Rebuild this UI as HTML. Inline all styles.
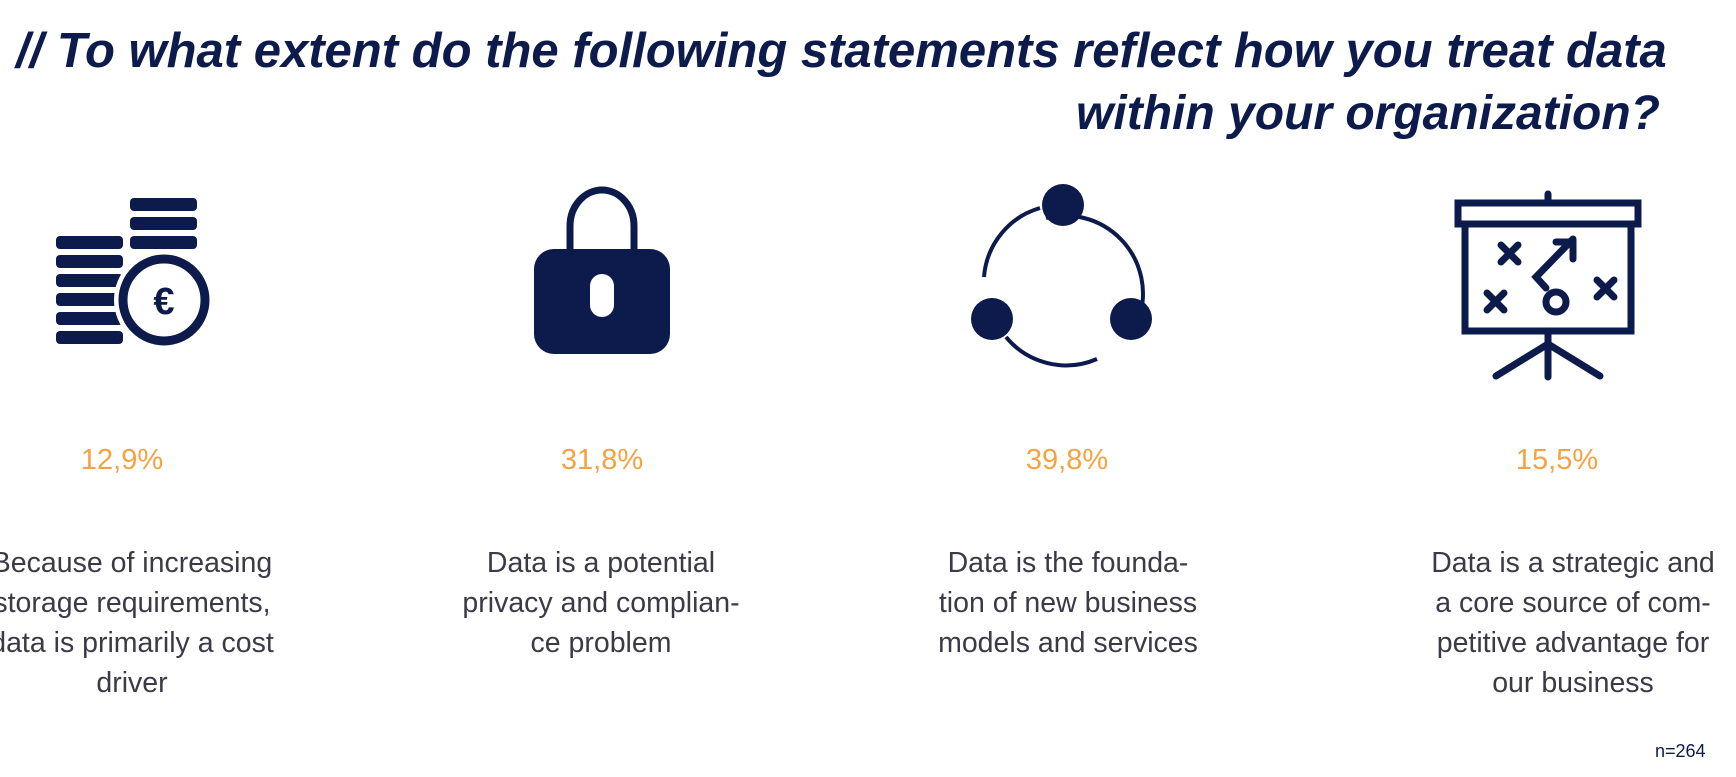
<!DOCTYPE html>
<html><head><meta charset="utf-8">
<style>
html,body{margin:0;padding:0;background:#fff;}
#root{position:relative;width:1736px;height:777px;overflow:hidden;background:#fff;font-family:"Liberation Sans",sans-serif;}
.title{position:absolute;font-weight:bold;font-style:italic;color:#0d1b4c;font-size:48px;white-space:nowrap;}
.pct{position:absolute;width:300px;text-align:center;color:#f5a340;font-size:29px;top:444px;}
.desc{position:absolute;width:400px;text-align:center;color:#3a3a48;font-size:28.5px;line-height:40px;top:543px;white-space:nowrap;}
.n{position:absolute;left:1655px;top:741px;font-size:18px;color:#0d1b4c;}
svg{position:absolute;left:0;top:0;}
</style></head><body>
<div id="root">
<div class="title" style="left:16px;top:23px;font-size:49px;">// To what extent do the following statements reflect how you treat data</div>
<div class="title" style="right:76px;top:86px;">within your organization?</div>

<svg width="1736" height="777">
 <g fill="#0d1b4c">
  <rect x="130" y="198" width="67" height="13" rx="4"/>
  <rect x="130" y="217" width="67" height="13" rx="4"/>
  <rect x="130" y="236" width="67" height="13" rx="4"/>
  <rect x="56" y="236" width="67" height="13" rx="4"/>
  <rect x="56" y="255" width="67" height="13" rx="4"/>
  <rect x="56" y="274" width="67" height="13" rx="4"/>
  <rect x="56" y="293" width="67" height="13" rx="4"/>
  <rect x="56" y="312" width="67" height="13" rx="4"/>
  <rect x="56" y="331" width="67" height="13" rx="4"/>
  <circle cx="164" cy="300" r="50" fill="#fff"/>
  <circle cx="164" cy="300" r="41" fill="none" stroke="#0d1b4c" stroke-width="9"/>
  <text x="164" y="314" text-anchor="middle" font-size="38" font-weight="bold" font-family="Liberation Sans" fill="#0d1b4c">€</text>
 </g>
 <g>
  <path d="M570 252 V226 a32 36 0 0 1 64 0 V252" fill="none" stroke="#0d1b4c" stroke-width="7"/>
  <rect x="534" y="249" width="136" height="105" rx="20" fill="#0d1b4c"/>
  <rect x="590" y="274" width="24" height="43" rx="12" fill="#fff"/>
 </g>
 <g>
  <path d="M1046 218 A78 78 0 0 1 1140 315" fill="none" stroke="#0d1b4c" stroke-width="4"/>
  <path d="M1097 359 A78 78 0 0 1 1006 337" fill="none" stroke="#0d1b4c" stroke-width="4"/>
  <path d="M984 277 A78 78 0 0 1 1040 208" fill="none" stroke="#0d1b4c" stroke-width="4"/>
  <circle cx="1063" cy="205" r="21" fill="#0d1b4c"/>
  <circle cx="992" cy="319" r="21" fill="#0d1b4c"/>
  <circle cx="1131" cy="319" r="21" fill="#0d1b4c"/>
 </g>
 <g stroke="#0d1b4c" stroke-width="7" fill="none" stroke-linecap="round">
  <line x1="1548" y1="194" x2="1548" y2="202"/>
  <rect x="1458" y="203" width="180" height="21"/>
  <rect x="1465" y="224" width="166" height="107"/>
  <line x1="1548" y1="331" x2="1548" y2="377"/>
  <line x1="1548" y1="344" x2="1496" y2="376"/>
  <line x1="1548" y1="344" x2="1600" y2="376"/>
  <path d="M1501 245 l17 17 M1518 245 l-17 17"/>
  <path d="M1487 293 l17 17 M1504 293 l-17 17"/>
  <path d="M1597 280 l17 17 M1614 280 l-17 17"/>
  <circle cx="1556" cy="302" r="10"/>
  <path d="M1546 288 l-10 -11 l37 -38 M1556 242 h17 v17"/>
 </g>
</svg>

<div id="pcts"></div>
<div class="desc" style="left:-68px;">Because of increasing<br>storage requirements,<br>data is primarily a cost<br>driver</div>
<div class="desc" style="left:401px;">Data is a potential<br>privacy and complian-<br>ce problem</div>
<div class="desc" style="left:868px;">Data is the founda-<br>tion of new business<br>models and services</div>
<div class="desc" style="left:1373px;">Data is a strategic and<br>a core source of com-<br>petitive advantage for<br>our business</div>
<div class="n">n=264</div>
</div>
<script>
const categories = ["cost driver","privacy problem","foundation","strategic"];
const values = [12.9, 31.8, 39.8, 15.5];
const centers = [122, 602, 1067, 1557];
const root = document.getElementById('root');
values.forEach(function(v, i){
  const d = document.createElement('div');
  d.className = 'pct';
  
  
  d.style.left = (centers[i] - 150) + 'px';
  d.textContent = v.toFixed(1).replace('.', ',') + '%';
  root.appendChild(d);
});
</script>
</body></html>
